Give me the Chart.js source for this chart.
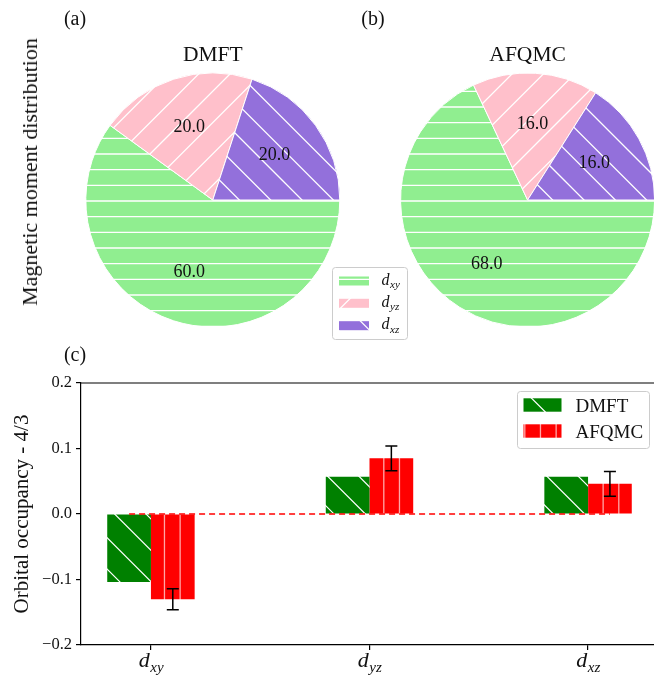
<!DOCTYPE html>
<html>
<head>
<meta charset="utf-8">
<script src="https://cdn.jsdelivr.net/npm/chart.js@4.4.1/dist/chart.umd.min.js"></script>
<style>
html, body { margin: 0; padding: 0; background: #fff; overflow: hidden; }
#wrap { position: relative; width: 654px; height: 675px; overflow: hidden; font-family: "Liberation Serif", "DejaVu Serif", serif; color: #111; }
canvas { position: absolute; }
.lbl { position: absolute; line-height: 1; white-space: nowrap; transform: translate(-50%, -50%); }
</style>
</head>
<body>
<div id="wrap">
  <canvas id="pieA" width="345" height="340" style="left:0px;top:0px"></canvas>
  <canvas id="pieB" width="340" height="340" style="left:320px;top:0px"></canvas>
  <canvas id="bars" width="680" height="335" style="left:0px;top:340px"></canvas>
  <div class="lbl" style="left:75px;top:18px;font-size:20px">(a)</div>
  <div class="lbl" style="left:373px;top:18px;font-size:20px">(b)</div>
  <div class="lbl" style="left:75px;top:354px;font-size:20px">(c)</div>
  <div class="lbl" style="left:30px;top:172px;font-size:22px;transform:translate(-50%,-50%) rotate(-90deg)">Magnetic moment distribution</div>
</div>
<script>
// data
const orbitals = ['xy', 'yz', 'xz'];
const methods = ['DMFT', 'AFQMC'];
const dmftMoment = [60, 20, 20];
const afqmcMoment = [68, 16, 16];
const dmftOcc = [-0.104, 0.057, 0.057];
const afqmcOcc = [-0.13, 0.085, 0.046];
const afqmcErr = [0.016, 0.019, 0.019];
const yTicks = [-0.2, -0.1, 0.0, 0.1, 0.2];
const zeroLineX = [-0.1, 2.1];

const SERIF = '"Liberation Serif", "DejaVu Serif", serif';
const TXT = '#111';
const CELL = 94; // hatch repeat (px)

// hatch pattern, anchored to page coords so all panels line up
function makeHatch(ctx, bg, kind, phase, line, lw, offX, offY) {
    const c = document.createElement('canvas');
    c.width = CELL; c.height = CELL;
    const g = c.getContext('2d');
    g.fillStyle = bg;
    g.fillRect(0, 0, CELL, CELL);
    g.strokeStyle = line;
    g.lineWidth = lw;
    g.beginPath();
    const step = (kind === '-' || kind === '|') ? CELL / 6 : CELL / 3;
    for (let k = -8; k <= 10; k++) {
        const o = phase + k * step;
        if (kind === '-') { g.moveTo(-2, o); g.lineTo(CELL + 2, o); }
        if (kind === '|') { g.moveTo(o, -2); g.lineTo(o, CELL + 2); }
        if (kind === '\\') { g.moveTo(o - 10, -10); g.lineTo(o + CELL + 10, CELL + 10); }
        if (kind === '/') { g.moveTo(o + 10, -10); g.lineTo(o - CELL - 10, CELL + 10); }
    }
    g.stroke();
    const p = ctx.createPattern(c, 'repeat');
    p.setTransform(new DOMMatrix().translate(-offX, -offY));
    return p;
}

function pieFills(ctx, offX, offY) {
    return [
        makeHatch(ctx, '#90ee90', '-', 13, '#fff', 1.3, offX, offY),
        makeHatch(ctx, '#ffc0cb', '/', 22, '#fff', 1.3, offX, offY),
        makeHatch(ctx, '#9370db', '\\', 8, '#fff', 1.3, offX, offY)
    ];
}

// italic letter with a subscript, e.g. d_xy
function drawSub(ctx, x, y, main, sub, size, align) {
    const f1 = 'italic ' + size + 'px ' + SERIF;
    const f2 = 'italic ' + Math.round(size * 0.7) + 'px ' + SERIF;
    ctx.font = f1;
    const w1 = ctx.measureText(main).width;
    ctx.font = f2;
    const w2 = ctx.measureText(sub).width;
    const x0 = align === 'center' ? x - (w1 + w2) / 2 : x;
    ctx.textAlign = 'left';
    ctx.textBaseline = 'alphabetic';
    ctx.fillStyle = TXT;
    ctx.font = f1;
    ctx.fillText(main, x0, y);
    ctx.font = f2;
    ctx.fillText(sub, x0 + w1 + 0.5, y + size * 0.22);
}

function legendBox(ctx, x, y, w, h) {
    ctx.save();
    ctx.beginPath();
    ctx.roundRect(x, y, w, h, 3);
    ctx.fillStyle = 'rgba(255,255,255,0.8)';
    ctx.fill();
    ctx.strokeStyle = '#cccccc';
    ctx.lineWidth = 1;
    ctx.stroke();
    ctx.restore();
}

// labels, title (and legend) for the pies
const pieDecor = {
    id: 'pieDecor',
    afterDatasetsDraw(chart, args, opts) {
        const ctx = chart.ctx;
        const meta = chart.getDatasetMeta(0);
        const values = chart.data.datasets[0].data;
        ctx.save();
        ctx.fillStyle = TXT;
        ctx.textAlign = 'center';
        ctx.textBaseline = 'middle';
        ctx.font = '18px ' + SERIF;
        let cx = 0, cy = 0;
        meta.data.forEach((arc, i) => {
            const p = arc.getProps(['x', 'y', 'startAngle', 'endAngle', 'outerRadius'], true);
            cx = p.x; cy = p.y;
            const mid = (p.startAngle + p.endAngle) / 2;
            const r = 0.6 * p.outerRadius;
            ctx.fillText(values[i].toFixed(1), p.x + r * Math.cos(mid), p.y + r * Math.sin(mid));
        });
        ctx.font = '21.5px ' + SERIF;
        ctx.fillText(opts.title, cx, cy - 145);
        if (opts.legend) {
            const fills = chart.data.datasets[0].backgroundColor;
            legendBox(ctx, 12.5, 267.5, 75, 72);
            [281, 303.3, 325.7].forEach((yc, i) => {
                ctx.fillStyle = fills[i];
                ctx.fillRect(19, yc - 4.5, 30, 9);
                drawSub(ctx, 61.5, yc + 3.5, 'd', orbitals[i], 16, 'left');
            });
        }
        ctx.restore();
    }
};

function pieChart(id, values, title, offX, padL, padR, legend) {
    const ctx = document.getElementById(id).getContext('2d');
    return new Chart(ctx, {
        type: 'pie',
        data: {
            labels: orbitals.map(o => 'd' + o),
            datasets: [{
                data: values,
                backgroundColor: pieFills(ctx, offX, 0),
                borderColor: '#fff',
                borderWidth: 1,
                radius: 127
            }]
        },
        options: {
            responsive: false,
            animation: false,
            events: [],
            rotation: 90,
            layout: { padding: { left: padL, right: padR, top: 73, bottom: 13 } },
            plugins: {
                legend: { display: false },
                tooltip: { enabled: false },
                pieDecor: { title: title, legend: legend }
            }
        },
        plugins: [pieDecor]
    });
}

pieChart('pieA', dmftMoment, methods[0], 0, 85, 4.4, false);
pieChart('pieB', afqmcMoment, methods[1], 320, 80, 4.8, true);

// bar chart extras: error bars, top spine, subscript tick labels, legend
const barDecor = {
    id: 'barDecor',
    afterDatasetsDraw(chart) {
        const ctx = chart.ctx;
        const y = chart.scales.y;
        const meta = chart.getDatasetMeta(1);
        ctx.save();
        ctx.strokeStyle = '#000';
        ctx.lineWidth = 1.5;
        meta.data.forEach((bar, i) => {
            const x = bar.x;
            const y1 = y.getPixelForValue(afqmcOcc[i] + afqmcErr[i]);
            const y2 = y.getPixelForValue(afqmcOcc[i] - afqmcErr[i]);
            ctx.beginPath();
            ctx.moveTo(x, y1); ctx.lineTo(x, y2);
            ctx.moveTo(x - 6, y1); ctx.lineTo(x + 6, y1);
            ctx.moveTo(x - 6, y2); ctx.lineTo(x + 6, y2);
            ctx.stroke();
        });
        ctx.restore();
    },
    afterDraw(chart) {
        const ctx = chart.ctx;
        const a = chart.chartArea;
        const xs = chart.scales.x;
        ctx.save();
        ctx.strokeStyle = '#000';
        ctx.lineWidth = 1.2;
        ctx.beginPath();
        ctx.moveTo(a.left - 0.6, a.top);
        ctx.lineTo(a.right, a.top);
        ctx.lineTo(a.right, a.bottom);
        ctx.stroke();
        orbitals.forEach((o, i) => {
            drawSub(ctx, xs.getPixelForValue(i), a.bottom + 22, 'd', o, 22, 'center');
        });
        const fills = chart.data.datasets.slice(0, 2).map(d => d.backgroundColor);
        legendBox(ctx, 517.5, 51.5, 132, 57);
        [65, 91].forEach((yc, i) => {
            ctx.fillStyle = fills[i];
            ctx.fillRect(523.5, yc - 6.7, 38, 13.4);
            ctx.fillStyle = TXT;
            ctx.font = '19px ' + SERIF;
            ctx.textAlign = 'left';
            ctx.textBaseline = 'alphabetic';
            ctx.fillText(methods[i], 575.5, yc + 6.5);
        });
        ctx.restore();
    }
};

const barCtx = document.getElementById('bars').getContext('2d');
const axisLine = { color: '#000', width: 1.2 };
const tickMarks = { drawOnChartArea: false, drawTicks: true, tickLength: 5, color: '#000', lineWidth: 1.2, offset: false };

new Chart(barCtx, {
    type: 'bar',
    data: {
        datasets: [
            {
                label: methods[0],
                data: orbitals.map((o, i) => ({ x: i, y: dmftOcc[i] })),
                backgroundColor: makeHatch(barCtx, '#008000', '\\', 8, '#fff', 1.2, 0, 340),
                borderWidth: 0,
                categoryPercentage: 0.4,
                barPercentage: 1.0,
                order: 2
            },
            {
                label: methods[1],
                data: orbitals.map((o, i) => ({ x: i, y: afqmcOcc[i] })),
                backgroundColor: makeHatch(barCtx, '#ff0000', '|', 7.8, 'rgba(255,255,255,0.65)', 1.3, 0, 340),
                borderWidth: 0,
                categoryPercentage: 0.4,
                barPercentage: 1.0,
                order: 2
            },
            {
                type: 'line',
                label: 'zero',
                data: zeroLineX.map(x => ({ x: x, y: 0 })),
                borderColor: '#ff0000',
                borderWidth: 1.6,
                borderDash: [6, 4],
                pointRadius: 0,
                order: 1
            }
        ]
    },
    options: {
        responsive: false,
        animation: false,
        events: [],
        layout: { padding: { left: 0, top: 43, right: 22, bottom: 0 } },
        plugins: {
            legend: { display: false },
            tooltip: { enabled: false }
        },
        scales: {
            x: {
                type: 'linear',
                offset: false,
                min: -0.32,
                max: 2.32,
                afterBuildTicks: s => { s.ticks = orbitals.map((o, i) => ({ value: i })); },
                afterFit: s => { s.height = 30; },
                ticks: { display: false },
                grid: tickMarks,
                border: axisLine
            },
            y: {
                type: 'linear',
                min: -0.2,
                max: 0.2,
                afterBuildTicks: s => { s.ticks = yTicks.map(v => ({ value: v })); },
                afterFit: s => { s.width = 81; },
                ticks: {
                    padding: 4,
                    color: TXT,
                    font: { family: SERIF, size: 16.5 },
                    callback: v => (v < -1e-9 ? '\u2212' : '') + Math.abs(v).toFixed(1)
                },
                grid: tickMarks,
                border: axisLine,
                title: {
                    display: true,
                    text: 'Orbital occupancy - 4/3',
                    color: TXT,
                    font: { family: SERIF, size: 21 },
                    padding: { top: 10, bottom: 0 }
                }
            }
        }
    },
    plugins: [barDecor]
});
</script>
</body>
</html>
